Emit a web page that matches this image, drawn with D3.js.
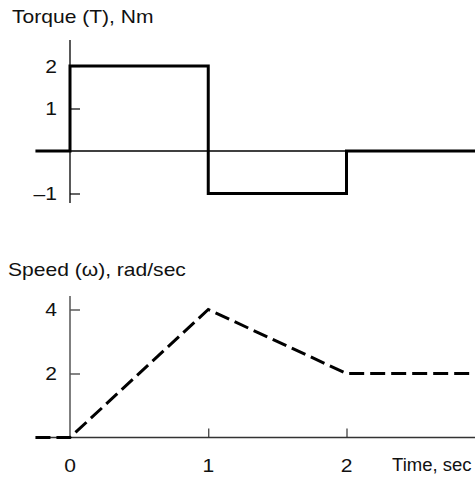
<!DOCTYPE html>
<html><head><meta charset="utf-8">
<script src="https://cdn.jsdelivr.net/npm/d3@7"></script>
<style>
html,body{margin:0;padding:0;background:#fff;}
text{font-family:"Liberation Sans",Arial,Helvetica,sans-serif;fill:#111;}
</style></head>
<body>
<script>
// Data
const torqueTime = [-0.25, 0, 0, 1, 1, 2, 2, 3];
const torqueValues = [0, 0, 2, 2, -1, -1, 0, 0];
const speedTime = [-0.25, 0, 1, 2, 3];
const speedValues = [0, 0, 4, 2, 2];
const torqueTicks = [2, 1, -1];
const speedTicks = [4, 2];
const timeTicks = [0, 1, 2];
const torqueTitle = "Torque (T), Nm";
const speedTitle = "Speed (\u03c9), rad/sec";
const timeTitle = "Time, sec";

const W = 475, H = 477, SX = 1.17, FS = 18;
const svg = d3.select("body").append("svg").attr("width", W).attr("height", H);

const x = d3.scaleLinear().domain([0, 2]).range([70, 346.5]);
const yT = d3.scaleLinear().domain([-1, 2]).range([193.5, 66]);
const yS = d3.scaleLinear().domain([0, 4]).range([437.5, 309.5]);

function label(t, px, py, anchor, sx) {
  svg.append("text")
    .attr("transform", `translate(${px},${py}) scale(${sx || SX},1)`)
    .attr("text-anchor", anchor)
    .attr("font-size", FS)
    .text(t);
}

// ---- Top panel ----
svg.append("line").attr("x1", 36).attr("x2", W).attr("y1", yT(0)).attr("y2", yT(0))
  .attr("stroke", "#000").attr("stroke-width", 1.3);
const axT = svg.append("g").attr("transform", `translate(${x(0)},0)`)
  .call(d3.axisRight(yT).tickValues(torqueTicks).tickSize(10).tickFormat(""));
axT.select(".domain").remove();
axT.selectAll(".tick line").attr("stroke", "#000").attr("stroke-width", 1.2);
axT.append("line").attr("x1", 0).attr("x2", 0).attr("y1", 40).attr("y2", 203)
  .attr("stroke", "#000").attr("stroke-width", 1.3);
torqueTicks.forEach(v => label(String(v).replace("-", "\u2013"), 57, yT(v) + 6.5, "end"));
label(torqueTitle, 12, 23, "start");

const tData = torqueTime.map((t, i) => [t, torqueValues[i]]);
svg.append("path").datum(tData)
  .attr("d", d3.line().x(d => x(d[0])).y(d => yT(d[1])))
  .attr("fill", "none").attr("stroke", "#000").attr("stroke-width", 3)
  .attr("stroke-linejoin", "miter");

// ---- Bottom panel ----
svg.append("line").attr("x1", 36).attr("x2", W).attr("y1", yS(0)).attr("y2", yS(0))
  .attr("stroke", "#333").attr("stroke-width", 1.3);
const axS = svg.append("g").attr("transform", `translate(${x(0)},0)`)
  .call(d3.axisRight(yS).tickValues(speedTicks).tickSize(10).tickFormat(""));
axS.select(".domain").remove();
axS.selectAll(".tick line").attr("stroke", "#333").attr("stroke-width", 1.2);
axS.append("line").attr("x1", 0).attr("x2", 0).attr("y1", 296).attr("y2", yS(0))
  .attr("stroke", "#555").attr("stroke-width", 1.5);
speedTicks.forEach(v => label(String(v), 57, yS(v) + 6.5, "end"));
label(speedTitle, 8, 276, "start");

const axX = svg.append("g").attr("transform", `translate(0,${yS(0)})`)
  .call(d3.axisTop(x).tickValues(timeTicks.filter(d => d > 0)).tickSize(9).tickFormat(""));
axX.select(".domain").remove();
axX.selectAll(".tick line").attr("stroke", "#333").attr("stroke-width", 1.2);
timeTicks.forEach(v => label(String(v), x(v), 472, "middle"));
label(timeTitle, 392, 471, "start", 1.03);

const sData = speedTime.map((t, i) => [t, speedValues[i]]);
svg.append("path").datum(sData)
  .attr("d", d3.line().x(d => x(d[0])).y(d => yS(d[1])))
  .attr("fill", "none").attr("stroke", "#000").attr("stroke-width", 3)
  .attr("stroke-dasharray", "15,6");
</script>
</body></html>
